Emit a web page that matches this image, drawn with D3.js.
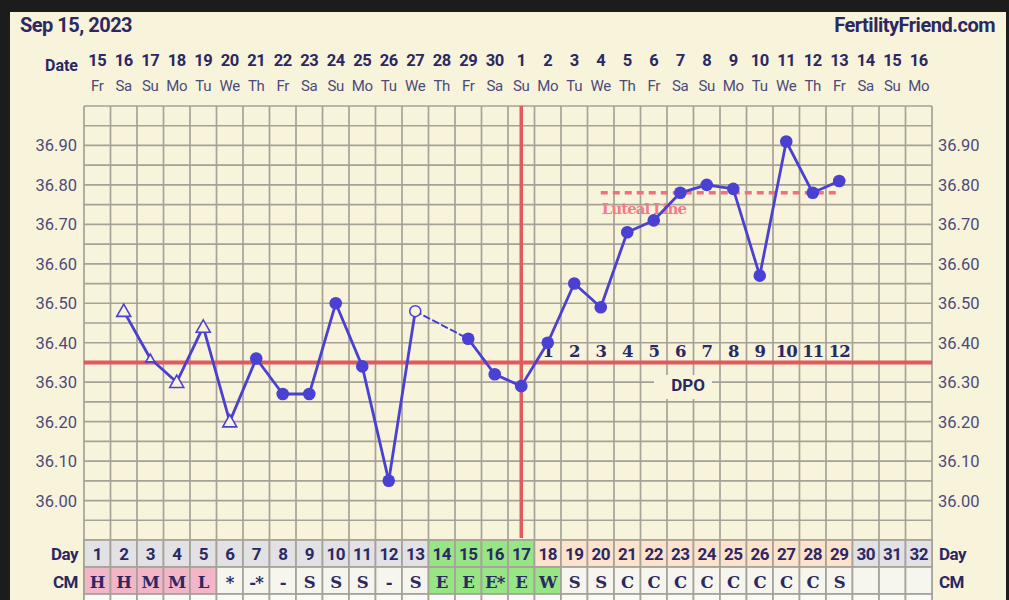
<!DOCTYPE html>
<html><head><meta charset="utf-8">
<script src="https://cdn.jsdelivr.net/npm/d3@7"></script>
<style>
html,body{margin:0;padding:0;background:#1c1c1c;}
svg{display:block;}
</style></head><body>
<svg id="c" width="1009" height="600"></svg>
<script>
// ---- data ----
const days = d3.range(1, 33);
const dates = ["15","16","17","18","19","20","21","22","23","24","25","26","27","28","29","30","1","2","3","4","5","6","7","8","9","10","11","12","13","14","15","16"];
const weekdays = ["Fr","Sa","Su","Mo","Tu","We","Th","Fr","Sa","Su","Mo","Tu","We","Th","Fr","Sa","Su","Mo","Tu","We","Th","Fr","Sa","Su","Mo","Tu","We","Th","Fr","Sa","Su","Mo"];
const temps = [null,36.48,36.36,36.30,36.44,36.20,36.36,36.27,36.27,36.50,36.34,36.05,36.48,null,36.41,36.32,36.29,36.40,36.55,36.49,36.68,36.71,36.78,36.80,36.79,36.57,36.91,36.78,36.81,null,null,null];
const markers = ["none","tri","trismall","tri","tri","tri","dot","dot","dot","dot","dot","dot","open","none","dot","dot","dot","dot","dot","dot","dot","dot","dot","dot","dot","dot","dot","dot","dot","none","none","none"];
const cm = ["H","H","M","M","L","*","-*","-","S","S","S","-","S","E","E","E*","E","W","S","S","C","C","C","C","C","C","C","C","S","","",""];
const dayRowType = ["g","g","g","g","g","g","g","g","g","g","g","g","g","f","f","f","f","l","l","l","l","l","l","l","l","l","l","l","l","g","g","g"];
const cmRowType = ["p","p","p","p","p","w","w","w","w","w","w","w","w","f","f","f","f","f","w","w","w","w","w","w","w","w","w","w","w","w","w","w"];
const yTicks = [36.00,36.10,36.20,36.30,36.40,36.50,36.60,36.70,36.80,36.90];
const coverline = 36.35;
const ovulationDay = 17;
const lutealLine = {from: 20, to: 29, value: 36.78};
const dpoStart = 18, dpoCount = 12;

// ---- layout ----
const svg = d3.select("#c");
const navy = "#2b2862", lab = "#4d4a7a", blue = "#4a40d2", red = "#e05a5e";
const gridC = "#a5a298";
const sans = "Roboto, 'Noto Sans', sans-serif";
const slab = "'DejaVu Serif', serif";

svg.append("rect").attr("x",10).attr("y",12).attr("width",996).attr("height",600).attr("fill","#f8f4db");

const x = d3.scaleBand().domain(days).range([84, 932]).padding(0);
const bw = x.bandwidth();
const cx = d => x(d) + bw/2;
const y = d3.scaleLinear().domain([35.90, 37.00]).range([540, 106]);

// title
svg.append("text").attr("x",20).attr("y",32).attr("font-family",sans).attr("font-weight","bold")
  .attr("font-size",20).attr("fill",navy).attr("letter-spacing","-0.5").text("Sep 15, 2023");
svg.append("text").attr("x",995).attr("y",32).attr("text-anchor","end").attr("font-family",sans).attr("font-weight","bold")
  .attr("font-size",20).attr("fill",navy).attr("letter-spacing","-0.5").text("FertilityFriend.com");

// date header
svg.append("text").attr("x",78).attr("y",71).attr("text-anchor","end").attr("font-family",sans)
  .attr("font-weight","bold").attr("font-size",16).attr("fill",navy).text("Date");
svg.append("g").selectAll("text").data(days).join("text")
  .attr("x",d=>cx(d)).attr("y",66).attr("text-anchor","middle").attr("font-family",sans)
  .attr("font-weight","bold").attr("font-size",16.5).attr("fill",navy).attr("letter-spacing","-0.5").text((d,i)=>dates[i]);
svg.append("g").selectAll("text").data(days).join("text")
  .attr("x",d=>cx(d)).attr("y",91).attr("text-anchor","middle").attr("font-family",sans)
  .attr("font-size",15).attr("fill",lab).attr("letter-spacing","-0.3").text((d,i)=>weekdays[i]);

// grid
const hLines = d3.range(0, 23).map(k => +(35.90 + k*0.05).toFixed(2));
svg.append("g").selectAll("line").data(hLines).join("line")
  .attr("x1",84).attr("x2",932).attr("y1",d=>y(d)).attr("y2",d=>y(d))
  .attr("stroke",gridC).attr("stroke-width",1.7);
svg.append("g").selectAll("line").data(d3.range(0,33)).join("line")
  .attr("x1",k=>84+k*bw).attr("x2",k=>84+k*bw).attr("y1",106).attr("y2",621)
  .attr("stroke",gridC).attr("stroke-width",1.7);

// y labels
const yl = svg.append("g");
yTicks.forEach(t => {
  yl.append("text").attr("x",77).attr("y",y(t)+6).attr("text-anchor","end").attr("font-family",sans)
    .attr("font-size",16.5).attr("fill",lab).text(t.toFixed(2));
  yl.append("text").attr("x",938).attr("y",y(t)+6).attr("font-family",sans)
    .attr("font-size",16.5).attr("fill",lab).text(t.toFixed(2));
});

// bottom rows
const dayFill = {g:"#e2e1e4", f:"#97e584", l:"#fde3cc"};
const cmFill = {p:"#f3b5c8", w:"#f6f6ee", f:"#97e584"};
const rows = svg.append("g");
rows.selectAll("rect.d").data(days).join("rect").attr("class","d")
  .attr("x",d=>x(d)).attr("y",540).attr("width",bw).attr("height",27)
  .attr("fill",(d,i)=>dayFill[dayRowType[i]]).attr("stroke",gridC).attr("stroke-width",1.7);
rows.selectAll("rect.c").data(days).join("rect").attr("class","c")
  .attr("x",d=>x(d)).attr("y",567).attr("width",bw).attr("height",27)
  .attr("fill",(d,i)=>cmFill[cmRowType[i]]).attr("stroke",gridC).attr("stroke-width",1.7);
rows.selectAll("rect.e").data(days).join("rect").attr("class","e")
  .attr("x",d=>x(d)).attr("y",594).attr("width",bw).attr("height",27)
  .attr("fill","#fafaf6").attr("stroke",gridC).attr("stroke-width",1.7);
rows.selectAll("text.d").data(days).join("text").attr("class","d")
  .attr("x",d=>cx(d)).attr("y",560).attr("text-anchor","middle").attr("font-family",sans)
  .attr("font-weight","bold").attr("font-size",17).attr("fill",navy).attr("letter-spacing","-0.6").text(d=>d);
rows.selectAll("text.c").data(days).join("text").attr("class","c")
  .attr("x",d=>cx(d)).attr("y",588).attr("text-anchor","middle").attr("font-family",slab)
  .attr("font-weight","bold").attr("font-size",16.5).attr("fill",navy).attr("letter-spacing","-0.8").text((d,i)=>cm[i]);
[["Day",560],["CM",588]].forEach(([t,yy])=>{
  rows.append("text").attr("x",78).attr("y",yy).attr("text-anchor","end").attr("font-family",sans)
    .attr("font-weight","bold").attr("font-size",17).attr("fill",navy).attr("letter-spacing","-0.5").text(t);
  rows.append("text").attr("x",939).attr("y",yy).attr("font-family",sans)
    .attr("font-weight","bold").attr("font-size",17).attr("fill",navy).attr("letter-spacing","-0.5").text(t);
});

// coverline & ovulation line
svg.append("line").attr("x1",84).attr("x2",932).attr("y1",y(coverline)).attr("y2",y(coverline))
  .attr("stroke",red).attr("stroke-width",4);
svg.append("line").attr("x1",cx(ovulationDay)).attr("x2",cx(ovulationDay)).attr("y1",106).attr("y2",538)
  .attr("stroke",red).attr("stroke-width",3.5);

// DPO label with box
svg.append("rect").attr("x",654).attr("y",375).attr("width",58).attr("height",24).attr("fill","#f8f4db");
svg.append("text").attr("x",688).attr("y",391).attr("text-anchor","middle").attr("font-family",sans)
  .attr("font-weight","bold").attr("font-size",17).attr("fill",navy).text("DPO");

// DPO numbers
svg.append("g").selectAll("text").data(d3.range(1, dpoCount+1)).join("text")
  .attr("x",k=>cx(dpoStart+k-1)).attr("y",357).attr("text-anchor","middle").attr("font-family",slab)
  .attr("font-weight","bold").attr("font-size",16.5).attr("fill",navy).attr("letter-spacing","-1").text(k=>k);

// luteal line
svg.append("line").attr("x1",cx(lutealLine.from)).attr("x2",cx(lutealLine.to))
  .attr("y1",y(lutealLine.value)).attr("y2",y(lutealLine.value))
  .attr("stroke","#f2707c").attr("stroke-width",3.5).attr("stroke-dasharray","7,5");
svg.append("text").attr("x",cx(lutealLine.from)+1).attr("y",214).attr("font-family",slab)
  .attr("font-weight","bold").attr("font-size",15).attr("fill","#f57b86").attr("letter-spacing","-1").text("Luteal Line");

// temperature line
const pts = days.map((d,i)=>({d, t: temps[i], m: markers[i]})).filter(p=>p.t!==null);
const line = d3.line().x(p=>cx(p.d)).y(p=>y(p.t));
for (let i=0;i<pts.length-1;i++){
  const a=pts[i], b=pts[i+1];
  const gap = b.d - a.d > 1;
  svg.append("path").attr("d", line([a,b])).attr("fill","none").attr("stroke",blue)
    .attr("stroke-width",gap?2:2.8).attr("stroke-dasharray",gap?"6,4":null).attr("stroke-linecap","round");
}
// markers
const mk = svg.append("g");
pts.forEach(p=>{
  const px=cx(p.d), py=y(p.t);
  if (p.m==="dot") mk.append("circle").attr("cx",px).attr("cy",py).attr("r",6.3).attr("fill",blue);
  else if (p.m==="open") mk.append("circle").attr("cx",px).attr("cy",py).attr("r",5.5).attr("fill","#f8f4db").attr("stroke",blue).attr("stroke-width",1.5);
  else if (p.m==="tri"||p.m==="trismall"){
    const s = p.m==="tri"?7:4.5;
    mk.append("path").attr("d",`M${px},${py-s}L${px+s*1.0},${py+s*0.75}L${px-s*1.0},${py+s*0.75}Z`)
      .attr("fill","#f8f4db").attr("stroke",blue).attr("stroke-width",1.6);
  }
});
</script>
</body></html>
